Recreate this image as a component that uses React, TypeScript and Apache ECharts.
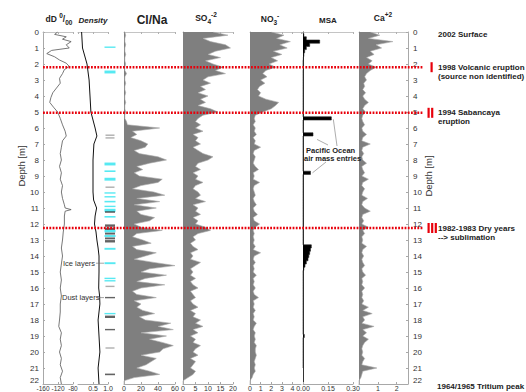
import React, { useEffect, useRef } from "react";
import * as echarts from "echarts";

const FONT = "'Liberation Sans', Arial, Helvetica, sans-serif";

// ---------- data ----------
// ion profiles are sampled every 0.2 m from 0 to 22 m (111 samples)
const SAMPLE_COUNT = 111;
const depthCats = Array.from({ length: SAMPLE_COUNT }, (_, i) => (i * 0.2).toFixed(1));

// dD (permil) profile: [value, depth m]
const dDProfile: number[][] = [
  [-121, 0], [-129, 0.15], [-98, 0.3], [-108, 0.45], [-85, 0.6], [-98, 0.8], [-90, 1.0],
  [-137, 1.15], [-150, 1.35], [-129, 1.55], [-116, 1.75], [-98, 1.95], [-90, 2.15],
  [-103, 2.35], [-108, 2.6], [-116, 2.9], [-114, 3.2], [-124, 3.5], [-134, 3.8],
  [-139, 4.1], [-142, 4.4], [-132, 4.7], [-121, 5.0], [-114, 5.4], [-108, 5.8],
  [-101, 6.2], [-98, 6.5], [-108, 6.8], [-111, 7.2], [-114, 7.6], [-111, 8.0],
  [-116, 8.4], [-111, 8.8], [-114, 9.2], [-108, 9.6], [-111, 10.0], [-108, 10.4],
  [-103, 10.8], [-101, 11.0], [-85, 11.1], [-101, 11.2], [-103, 11.5], [-103, 12.0],
  [-106, 12.5], [-108, 13.0], [-111, 13.5], [-108, 14.0], [-111, 14.5], [-114, 15.0],
  [-111, 15.5], [-114, 16.0], [-111, 16.5], [-114, 17.0], [-114, 17.5], [-116, 18.0],
  [-118, 18.4], [-111, 18.8], [-114, 19.2], [-111, 19.6], [-116, 20.0], [-111, 20.4],
  [-114, 20.8], [-108, 21.2], [-114, 21.6], [-111, 22.0],
];

// snow density (g/cm3): [value, depth m]
const densityProfile: number[][] = [
  [0.12, 0], [0.15, 1], [0.3, 2], [0.37, 3], [0.4, 4], [0.43, 5], [0.5, 5.5], [0.57, 6],
  [0.63, 6.5], [0.53, 7], [0.5, 8], [0.5, 9], [0.5, 10], [0.52, 10.5], [0.62, 11],
  [0.57, 11.5], [0.55, 12], [0.6, 12.5], [0.63, 13], [0.67, 13.5], [0.7, 14], [0.7, 15],
  [0.69, 16], [0.72, 16.5], [0.73, 17], [0.67, 18], [0.7, 19], [0.73, 20], [0.67, 21],
  [0.7, 22],
];

// Cl/Na ratio
const clNa = [
  1, 2, 1, 1, 2, 1, 1, 2, 1, 1, 2, 1, 1, 3, 1, 1, 2, 1, 1, 2, 1, 1, 2, 1, 1,
  2, 1, 1, 3, 4, 42, 10, 15, 8, 20, 28, 25, 12, 18, 40, 50, 30, 15, 22, 12,
  18, 45, 40, 20, 10, 35, 48, 15, 42, 12, 38, 15, 20, 36, 30, 12, 20, 45, 15, 10,
  22, 32, 10, 15, 38, 25, 12, 35, 60, 30, 20, 50, 25, 15, 48, 20, 10, 15, 38, 12,
  20, 15, 22, 36, 18, 25, 55, 40, 58, 20, 50, 30, 45, 58, 46, 42, 20, 38, 32, 26,
  15, 30, 42, 12, 0, 0,
];

// SO4
const so4 = [
  12, 18, 8, 11, 17, 19, 13, 10, 15, 9, 12, 16, 13, 17, 10, 8, 11, 7, 9, 6,
  10, 7, 9, 6, 11, 14, 8, 6, 5, 7, 5, 8, 4, 6, 5, 7, 4, 6, 8, 12,
  10, 6, 5, 7, 4, 6, 5, 8, 5, 4, 6, 7, 5, 9, 4, 6, 5, 7, 4, 6,
  5, 9, 11, 6, 4, 5, 3, 4, 6, 3, 4, 3, 7, 5, 3, 4, 3, 5, 3, 4,
  6, 3, 4, 5, 3, 4, 6, 3, 5, 4, 7, 5, 8, 4, 6, 3, 5, 4, 7, 5,
  4, 6, 3, 5, 4, 3, 5, 4, 2, 0, 0,
];

// NO3
const no3 = [
  2.0, 3.2, 2.5, 3.8, 2.8, 3.5, 2.2, 3.0, 2.0, 2.6, 1.8, 2.4, 1.5, 1.2, 1.6,
  1.0, 1.4, 0.9, 0.7, 1.0, 0.8, 1.5, 2.7, 2.4, 2.0, 1.2, 0.5, 0.4, 0.5, 0.3,
  0.5, 0.4, 0.6, 0.3, 0.5, 0.4, 1.0, 0.4, 0.3, 0.5, 0.4, 0.3, 0.5, 0.8, 0.3,
  0.4, 0.3, 0.9, 0.4, 0.3, 0.4, 0.5, 0.3, 0.4, 0.6, 0.3, 0.4, 0.7, 0.3, 0.4,
  0.9, 0.5, 0.3, 0.4, 0.3, 0.4, 0.3, 0.5, 0.3, 1.0, 0.4, 0.3, 0.5, 0.3, 0.4,
  0.3, 0.6, 0.3, 0.4, 0.3, 0.5, 0.3, 0.4, 0.8, 0.3, 0.4, 0.3, 0.5, 0.3, 0.4,
  0.3, 0.6, 0.4, 0.3, 0.5, 0.4, 0.5, 0.4, 0.6, 0.5, 0.5, 0.6, 0.5, 0.4, 0.5,
  0.4, 0.5, 0.3, 0.2, 0, 0,
];

// MSA
const msa = [
  0, 0.005, 0.02, 0.1, 0.04, 0.02, 0.01, 0.005, 0.002, 0, 0, 0.003, 0, 0, 0,
  0, 0, 0, 0, 0, 0, 0, 0, 0, 0, 0, 0, 0.17, 0, 0, 0, 0, 0.06, 0, 0,
  0, 0, 0, 0, 0, 0, 0, 0, 0, 0.045, 0, 0, 0, 0, 0, 0, 0, 0, 0, 0,
  0, 0, 0, 0, 0, 0, 0, 0, 0, 0, 0, 0, 0.05, 0.045, 0.04, 0.035, 0.03, 0.02, 0.012, 0.005,
  0, 0, 0, 0, 0, 0, 0, 0, 0, 0, 0, 0, 0, 0, 0, 0, 0, 0, 0, 0,
  0.008, 0, 0, 0, 0, 0, 0, 0, 0, 0, 0,
];

// Ca
const ca = [
  0.6, 1.1, 0.5, 1.8, 0.9, 1.2, 0.6, 0.8, 0.4, 0.7, 0.5, 0.9, 0.6, 0.4, 0.3,
  0.4, 0.25, 0.3, 0.2, 0.35, 0.2, 0.3, 0.5, 0.3, 0.2, 0.35, 0.2, 0.15, 0.2, 0.3,
  0.15, 0.2, 0.4, 0.2, 0.15, 0.6, 0.2, 0.15, 0.25, 0.15, 0.2, 0.4, 0.15, 0.2, 0.3,
  0.15, 0.5, 0.2, 0.15, 0.3, 0.2, 0.15, 0.45, 0.2, 0.15, 0.3, 0.6, 0.2, 0.15, 0.25,
  0.15, 0.5, 0.2, 0.3, 0.15, 0.2, 0.15, 0.4, 0.2, 0.15, 0.25, 0.15, 0.2, 0.3, 0.15,
  0.2, 0.35, 0.15, 0.2, 0.15, 0.3, 0.15, 0.2, 0.15, 0.25, 0.15, 0.5, 0.2, 0.7, 0.2,
  0.3, 0.15, 0.8, 0.2, 0.4, 0.2, 0.5, 0.3, 0.2, 0.15, 0.2, 0.15, 0.3, 0.2, 0.15,
  0.95, 0.2, 0.15, 0.1, 0, 0,
];

// stratigraphic layers: [depth m, thickness m]
const iceLayers: number[][] = [
  [0.95, 0.08], [2.5, 0.18], [8.25, 0.18], [8.7, 0.1], [9.2, 0.18], [10.06, 0.08],
  [10.3, 0.08], [10.6, 0.1], [10.9, 0.08], [11.15, 0.2], [11.55, 0.1], [12.45, 0.15],
  [12.75, 0.12], [13.55, 0.12], [14.45, 0.12], [15.4, 0.08], [15.55, 0.08], [17.6, 0.08],
];
const dustLayers: number[][] = [
  [11.25, 0.1], [12.1, 0.15], [12.3, 0.15], [12.6, 0.12], [12.9, 0.12], [13.08, 0.15],
  [16.6, 0.06], [17.8, 0.15], [18.6, 0.08], [21.4, 0.1],
];
const greyLayers: number[][] = [
  [6.45, 0.06], [6.62, 0.06], [9.7, 0.08], [15.9, 0.06], [19.75, 0.06],
];

const events = [
  { depth: 2.2, mark: 1, lines: ["1998 Volcanic eruption", "(source non identified)"] },
  { depth: 5.05, mark: 2, lines: ["1994 Sabancaya", "eruption"] },
  { depth: 12.25, mark: 3, lines: ["1982-1983 Dry years", "--> sublimation"] },
];
const surfaceNote = "2002 Surface";
const bottomNote = "1964/1965 Tritium peak";
const pacificNote = ["Pacific Ocean", "air mass entries"];
const pacificIdx = [27, 32, 44];
const iceNote = "Ice layers";
const dustNote = "Dust layers";

// ---------- layout ----------
const GRID_TOP = 32;
const GRID_H = 352;
const DEPTH_MAX = 22;
const PX_PER_M = GRID_H / DEPTH_MAX;
const panels = [
  { left: 43, width: 30 }, // dD
  { left: 78, width: 30 }, // density
  { left: 104, width: 12 }, // layers
  { left: 124, width: 51 }, // Cl/Na
  { left: 183, width: 50 }, // SO4
  { left: 250, width: 51 }, // NO3
  { left: 303, width: 50 }, // MSA
  { left: 359, width: 49 }, // Ca
];
const AX = "#a8a8a8";
const labelStyle = { fontSize: 8, color: "#333", fontFamily: FONT };

function bottomAxis(gridIndex: number, min: number, max: number, interval: number, extra: any = {}) {
  return {
    type: "value", gridIndex, position: "bottom", min, max, interval,
    axisLine: { show: true, onZero: false, lineStyle: { color: AX, width: 1 } },
    axisTick: { show: true, inside: true, length: 2, lineStyle: { color: AX } },
    axisLabel: { ...labelStyle, fontSize: 7, lineHeight: 7, margin: 0.5, ...(extra.axisLabel || {}) },
    splitLine: { show: false },
  };
}
function topAxis(gridIndex: number, min: number, max: number, interval: number) {
  return {
    type: "value", gridIndex, position: "top", min, max, interval,
    axisLine: { show: true, onZero: false, lineStyle: { color: "#c4c4c4", width: 1 } },
    axisTick: { show: true, inside: true, length: 2, lineStyle: { color: "#b0b0b0" } },
    axisLabel: { show: false },
    splitLine: { show: false },
  };
}
function catY(gridIndex: number, color = AX) {
  return {
    type: "category", gridIndex, data: depthCats, boundaryGap: false, inverse: true,
    axisLine: { show: true, onZero: false, lineStyle: { color, width: 1 } },
    axisTick: { show: false }, axisLabel: { show: false }, splitLine: { show: false },
  };
}
function hiddenY(gridIndex: number) {
  return { type: "value", gridIndex, min: 0, max: DEPTH_MAX, inverse: true, show: false };
}
function depthAxis(gridIndex: number, position: string) {
  return {
    type: "value", gridIndex, position, min: 0, max: DEPTH_MAX, interval: 1, inverse: true,
    axisLine: { show: true, onZero: false, lineStyle: { color: AX, width: 1 } },
    axisTick: { show: true, inside: true, length: 2, lineStyle: { color: AX } },
    axisLabel: { ...labelStyle, margin: position === "left" ? 4 : 5, verticalAlignMaxLabel: "bottom" },
    splitLine: { show: false },
  };
}
function profile(name: string, idx: number, data: number[], fill: string, line: string, step: any = false) {
  return {
    name, type: "line", xAxisIndex: idx, yAxisIndex: idx, data, step,
    symbol: "none", silent: true,
    lineStyle: { color: line, width: 0.6 },
    areaStyle: { color: fill, opacity: 1 },
  };
}
function layerSeries(name: string, data: number[][], color: string, width: number) {
  return {
    name, type: "scatter", xAxisIndex: 2, yAxisIndex: 2, silent: true,
    data: data.map((d) => [0.5, d[0], d[1]]),
    symbol: "rect",
    symbolSize: (v: number[]) => [width, Math.max(1.4, v[2] * PX_PER_M)],
    itemStyle: { color },
  };
}

const MSA_SERIES = 8;

function titleText(x: number, y: number, text: string, rich: any, extra: any = {}) {
  return {
    type: "text", x, y, z: 10,
    style: {
      text, align: "center", verticalAlign: "middle", fill: "#222",
      font: `bold 8px ${FONT}`, rich, ...extra,
    },
  };
}

const richBase = {
  b: { fontSize: 8.5, fontWeight: "bold", fontFamily: FONT, color: "#222", lineHeight: 14 },
  sup: { fontSize: 6.5, fontWeight: "bold", fontFamily: FONT, color: "#222", lineHeight: 8, verticalAlign: "top" },
  sub: { fontSize: 6.5, fontWeight: "bold", fontFamily: FONT, color: "#222", lineHeight: 8, verticalAlign: "bottom" },
};

function buildOption() {
  return {
    animation: false,
    backgroundColor: "#fff",
    grid: panels.map((p) => ({
      left: p.left, width: p.width, top: GRID_TOP, height: GRID_H,
      containLabel: false, outerBoundsMode: "none",
    })),
    xAxis: [
      bottomAxis(0, -160, -80, 40, { axisLabel: { fontSize: 6.5, showMinLabel: true, showMaxLabel: true, hideOverlap: false } }),
      bottomAxis(1, 0, 1, 0.5, { axisLabel: { showMinLabel: false, formatter: (v: number) => v.toFixed(1) } }),
      { type: "value", gridIndex: 2, min: 0, max: 1, show: false },
      bottomAxis(3, 0, 60, 20),
      bottomAxis(4, 0, 20, 5),
      bottomAxis(5, 0, 4.8, 1, { axisLabel: { showMaxLabel: false } }),
      bottomAxis(6, 0, 0.3, 0.15, { axisLabel: { formatter: (v: number) => v.toFixed(2) } }),
      bottomAxis(7, 0, 2.6, 1, { axisLabel: { showMinLabel: false, showMaxLabel: false } }),
      topAxis(0, -160, -80, 40),
      topAxis(1, 0, 1, 0.5),
      topAxis(3, 0, 60, 20),
      topAxis(4, 0, 20, 5),
      topAxis(5, 0, 4.8, 1),
      topAxis(6, 0, 0.3, 0.15),
      topAxis(7, 0, 2.6, 1),
    ],
    yAxis: [
      depthAxis(0, "left"),
      hiddenY(1),
      hiddenY(2),
      catY(3),
      catY(4),
      catY(5),
      catY(6, "#333"),
      catY(7),
      depthAxis(7, "right"),
    ],
    series: [
      {
        name: "dD", type: "line", xAxisIndex: 0, yAxisIndex: 0, data: dDProfile,
        symbol: "none", silent: true, lineStyle: { color: "#555", width: 0.8 },
      },
      {
        name: "Density", type: "line", xAxisIndex: 1, yAxisIndex: 1, data: densityProfile,
        symbol: "none", silent: true, lineStyle: { color: "#111", width: 1 },
      },
      layerSeries("Ice", iceLayers, "#2de4ef", 11),
      layerSeries("Dust", dustLayers, "#3c3c3c", 10),
      layerSeries("Grey", greyLayers, "#9a9a9a", 9),
      profile("Cl/Na", 3, clNa, "#7f7f7f", "#ababab"),
      profile("SO4", 4, so4, "#7f7f7f", "#ababab"),
      profile("NO3", 5, no3, "#7f7f7f", "#ababab"),
      profile("MSA", 6, msa, "#000", "#222", "middle"),
      profile("Ca", 7, ca, "#7f7f7f", "#ababab"),
    ],
    graphic: [
      titleText(59, 19, "{b|dD }{sup|0}{b|/}{sub|00}", richBase),
      titleText(93, 20, "Density", {}, { font: `italic bold 8px ${FONT}` }),
      titleText(152, 20, "Cl/Na", {}, { font: `bold 12px ${FONT}` }),
      titleText(206, 18, "{b|SO}{sub|4}{sup|-2}", richBase),
      titleText(270, 19, "{b|NO}{sub|3}{sup|-}", richBase),
      titleText(328, 20, "MSA", {}, { font: `bold 8px ${FONT}` }),
      titleText(383, 18, "{b|Ca}{sup|+2}", richBase),
    ],
  };
}

export default function App() {
  const ref = useRef<HTMLDivElement>(null);
  useEffect(() => {
    const el = ref.current!;
    const chart = echarts.init(el, undefined, { renderer: "svg" });
    chart.setOption(buildOption() as any);

    const yPix = (d: number) => chart.convertToPixel({ yAxisIndex: 0 }, d) as number;
    const msaPt = (i: number) => chart.convertToPixel({ seriesIndex: MSA_SERIES }, [msa[i], i]) as number[];
    const g: any[] = [];
    const txt = (x: number, y: number, text: string, font: string, fill = "#222", align = "left") => ({
      type: "text", x, y, z: 20, style: { text, font, fill, align, verticalAlign: "middle" },
    });
    const ln = (x1: number, y1: number, x2: number, y2: number, stroke = "#8a8a8a", w = 0.7) => ({
      type: "line", z: 20, shape: { x1, y1, x2, y2 }, style: { stroke, lineWidth: w },
    });
    const noteFont = `bold 8px ${FONT}`;

    g.push({
      type: "text", x: 21, y: 166, rotation: Math.PI / 2, z: 20,
      style: { text: "Depth [m]", font: `9.5px ${FONT}`, fill: "#333", align: "center", verticalAlign: "middle" },
    });
    g.push({
      type: "text", x: 428, y: 176, rotation: Math.PI / 2, z: 20,
      style: { text: "Depth [m]", font: `9.5px ${FONT}`, fill: "#333", align: "center", verticalAlign: "middle" },
    });

    g.push(txt(438, yPix(0) + 2, surfaceNote, noteFont));
    g.push(txt(437, yPix(DEPTH_MAX) + 2, bottomNote, noteFont));

    events.forEach((ev) => {
      const y = yPix(ev.depth);
      g.push({
        type: "line", z: 30, shape: { x1: 43, y1: y, x2: 423, y2: y },
        style: { stroke: "#e8000b", lineWidth: 2.4, lineDash: [1.8, 1.4] },
      });
      const start = ev.mark === 1 ? 430.5 : 427.5;
      for (let k = 0; k < ev.mark; k++) {
        g.push({
          type: "rect", z: 30, shape: { x: start + k * 3.6, y: y - 5, width: 2.2, height: 10 },
          style: { fill: "#e8000b" },
        });
      }
      g.push(txt(438, y, ev.lines[0], noteFont));
      g.push(txt(438, y + 9, ev.lines[1], noteFont));
    });

    const pFont = `bold 7.5px ${FONT}`;
    g.push(txt(306, 150, pacificNote[0], pFont));
    g.push(txt(304, 158, pacificNote[1], pFont));
    const [a, b, c] = pacificIdx.map(msaPt);
    g.push(ln(337, 146, a[0] + 2, a[1] + 1));
    g.push(ln(328, 145, b[0] + 4, b[1] + 5));
    g.push(ln(326, 162, c[0] + 2, c[1]));

    const lFont = `7.5px ${FONT}`;
    const yIce = yPix(iceLayers[14][0]);
    const yDust = yPix(dustLayers[6][0]);
    g.push(txt(63, yIce, iceNote, lFont, "#333"));
    g.push(ln(96, yIce, 104, yIce, "#666", 0.6));
    g.push(txt(62, yDust, dustNote, lFont, "#333"));
    g.push(ln(97, yDust, 104, yDust, "#666", 0.6));

    const base = (buildOption() as any).graphic;
    chart.setOption({ graphic: [...base, ...g] } as any);
    return () => chart.dispose();
  }, []);
  return <div ref={ref} style={{ position: "fixed", left: 0, top: 0, width: 526, height: 392, background: "#fff" }} />;
}
